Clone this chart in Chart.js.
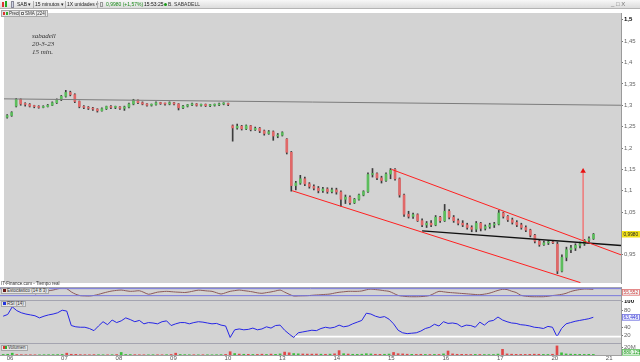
<!DOCTYPE html>
<html><head><meta charset="utf-8">
<script src="https://cdn.jsdelivr.net/npm/chart.js@4.4.1/dist/chart.umd.min.js"></script>
<style>
*{box-sizing:border-box}
html,body{margin:0;padding:0;background:#fff;overflow:hidden}
#wrap{position:relative;width:640px;height:362px;font-family:'Liberation Sans',Arial,sans-serif;color:#222}
canvas{position:absolute;left:0}
.abs{position:absolute;white-space:nowrap}
#tb{left:0;top:0;width:640px;height:9px;background:linear-gradient(#f7f7f7,#dcdcdc);border-bottom:1px solid #b4b4b4}
.t{font-size:5px;line-height:9px;top:0}
.sep{top:1px;width:1px;height:7px;background:#b0b0b0}
.box{font-size:4.5px;line-height:5px;height:7px;border:1px solid #a8a8a8;background:#e4e4e4;padding:0 1px;color:#333}
.sq{display:inline-block;width:3px;height:3px;margin-right:1px;vertical-align:0px}
.note{font-family:'Liberation Serif',serif;font-style:italic;font-size:7px;line-height:8px;color:#333;left:32px}
.hl{left:0;width:621px;height:1px;background:#a4a4b0}
</style></head><body><div id="wrap">
<canvas id="cPrice" width="640" height="278" style="top:9px"></canvas>
<canvas id="cStoch" width="640" height="13" style="top:287px"></canvas>
<canvas id="cRsi" width="640" height="43" style="top:300px"></canvas>
<canvas id="cVol" width="640" height="19" style="top:343px"></canvas>

<div id="tb" class="abs"></div>
<div class="abs" style="left:2px;top:2px;width:2px;height:5px;background:#d33"></div>
<div class="abs" style="left:5px;top:1px;width:2px;height:6px;background:#2a2"></div>
<div class="abs" style="left:11px;top:1px;width:3px;height:7px;border:1px solid #889;background:#cfd6e6"></div>
<div class="abs t" style="left:17px">SAB ▾</div>
<div class="abs sep" style="left:33px"></div>
<div class="abs t" style="left:35px">15 minutos ▾</div>
<div class="abs sep" style="left:65px"></div>
<div class="abs t" style="left:67px">1X unidades ▾</div>
<div class="abs sep" style="left:97px"></div>
<div class="abs" style="left:100px;top:2px;width:3px;height:5px;border:1px solid #999"></div>
<div class="abs t" style="left:106px;color:#1a8a1a">0,9980 (+1,57%)</div>
<div class="abs t" style="left:144px;color:#111">15:53:25</div>
<div class="abs" style="left:164px;top:3px;width:3px;height:3px;border-radius:50%;background:#1a9a1a"></div>
<div class="abs t" style="left:168px;color:#333">B. SABADELL</div>
<div class="abs t" style="left:611px;color:#777;font-size:6px">_ □ X</div>

<div class="abs box" style="left:1px;top:10px"><span class="sq" style="background:#d33;width:2px"></span><span class="sq" style="background:#3a3;width:2px"></span>Precio</div>
<div class="abs box" style="left:19px;top:10px;background:#ececec"><span class="sq" style="border:0.5px solid #777;background:#fff"></span>SMA (224)</div>

<div class="abs note" style="top:32px">sabadell</div>
<div class="abs note" style="top:39.5px">20-3-23</div>
<div class="abs note" style="top:48px">15 min.</div>

<div class="abs" style="left:1px;top:281px;font-size:4.5px;line-height:5px;color:#333">IT-Finance.com - Tiempo real</div>
<div class="abs hl" style="top:286.5px"></div>
<div class="abs hl" style="top:299.5px"></div>
<div class="abs hl" style="top:342.5px"></div>
<div class="abs box" style="left:1px;top:288px;height:6px;line-height:4px"><span class="sq" style="background:#6a1a1a"></span>Estocástico (14 8 3)</div>
<div class="abs box" style="left:1px;top:301px;height:6px;line-height:4px"><span class="sq" style="background:#2233dd"></span>RSI (14)</div>
<div class="abs box" style="left:1px;top:345px;height:6px;line-height:4px"><span class="sq" style="background:#d33;width:2px;margin-right:0"></span><span class="sq" style="background:#3a3;width:2px"></span>Volumen</div>
</div>
<script>
// ---------------- data ----------------
const dayLabels = ['06','07','08','09','10','13','14','15','16','17','20','21'];
const barsPerDay = 12;
const priceTicks = [0.95,1,1.05,1.1,1.15,1.2,1.25,1.3,1.35,1.4,1.45,1.5];
const rsiTicks = [20,40,80,100];
const volTicks = [20];

const opens = [1.272,1.276,
 1.298,1.314,1.303,1.302,1.298,1.297,1.295,1.297,1.300,1.306,1.313,1.321,
 1.330,1.325,1.309,1.297,1.295,1.293,1.291,1.287,1.292,1.297,1.295,1.296,
 1.293,1.296,1.303,1.312,1.306,1.303,1.300,1.302,1.306,1.304,1.303,1.306,
 1.303,1.294,1.298,1.301,1.303,1.300,1.302,1.299,1.300,1.301,1.303,1.304,
 1.252,1.247,1.251,1.245,1.252,1.243,1.246,1.240,1.234,1.238,1.228,1.230,
 1.221,1.190,1.112,1.118,1.128,1.116,1.110,1.106,1.100,1.104,1.098,1.102,
 1.097,1.080,1.085,1.072,1.080,1.090,1.098,1.138,1.140,1.130,1.124,1.139,
 1.150,1.128,1.090,1.045,1.040,1.044,1.030,1.020,1.024,1.020,1.038,1.030,
 1.052,1.038,1.030,1.024,1.020,1.014,1.010,1.024,1.012,1.016,1.020,1.022,
 1.048,1.040,1.032,1.026,1.020,1.014,1.008,0.996,0.982,0.974,0.978,0.980,
 0.975,0.912,0.944,0.962,0.966,0.972,0.976,0.984,0.988];
const closes = [1.276,1.283,
 1.314,1.303,1.302,1.298,1.297,1.295,1.297,1.300,1.306,1.313,1.321,1.330,
 1.325,1.309,1.297,1.295,1.293,1.291,1.287,1.292,1.297,1.295,1.296,1.293,
 1.296,1.303,1.312,1.306,1.303,1.300,1.302,1.306,1.304,1.303,1.306,1.303,
 1.294,1.298,1.301,1.303,1.300,1.302,1.299,1.300,1.301,1.303,1.304,1.302,
 1.247,1.251,1.245,1.252,1.243,1.246,1.240,1.234,1.238,1.228,1.230,1.236,
 1.190,1.112,1.118,1.128,1.116,1.110,1.106,1.100,1.104,1.098,1.102,1.097,
 1.080,1.085,1.072,1.080,1.090,1.098,1.138,1.140,1.130,1.124,1.139,1.148,
 1.128,1.090,1.045,1.040,1.044,1.030,1.020,1.024,1.020,1.038,1.030,1.052,
 1.038,1.030,1.024,1.020,1.014,1.010,1.024,1.012,1.016,1.020,1.022,1.048,
 1.040,1.032,1.026,1.020,1.014,1.008,0.996,0.982,0.974,0.978,0.980,0.978,
 0.912,0.944,0.962,0.966,0.972,0.976,0.984,0.988,0.998];
const highs = [1.278,1.285,
 1.316,1.315,1.306,1.304,1.300,1.299,1.299,1.302,1.308,1.315,1.323,1.335,
 1.333,1.327,1.310,1.299,1.297,1.295,1.292,1.294,1.298,1.299,1.298,1.297,
 1.298,1.305,1.314,1.313,1.308,1.304,1.303,1.308,1.307,1.305,1.308,1.307,
 1.304,1.300,1.302,1.305,1.304,1.303,1.303,1.302,1.303,1.305,1.306,1.305,
 1.254,1.256,1.253,1.254,1.253,1.249,1.248,1.242,1.241,1.240,1.234,1.238,
 1.222,1.192,1.122,1.136,1.132,1.119,1.114,1.110,1.108,1.107,1.106,1.106,
 1.100,1.090,1.088,1.082,1.092,1.100,1.142,1.152,1.142,1.134,1.142,1.152,
 1.152,1.130,1.092,1.052,1.048,1.046,1.034,1.028,1.030,1.042,1.040,1.068,
 1.056,1.042,1.034,1.030,1.024,1.018,1.028,1.026,1.020,1.024,1.026,1.054,
 1.050,1.042,1.036,1.030,1.024,1.018,1.010,0.998,0.986,0.982,0.984,0.982,
 0.980,0.950,0.968,0.972,0.976,0.980,0.986,0.992,1.000];
const lows = [1.270,1.274,
 1.296,1.300,1.298,1.296,1.294,1.293,1.294,1.296,1.299,1.304,1.311,1.319,
 1.322,1.306,1.294,1.292,1.290,1.288,1.284,1.286,1.290,1.292,1.292,1.290,
 1.288,1.294,1.301,1.304,1.301,1.298,1.298,1.300,1.302,1.300,1.301,1.301,
 1.289,1.292,1.296,1.299,1.298,1.298,1.297,1.297,1.298,1.299,1.301,1.299,
 1.216,1.244,1.242,1.243,1.240,1.241,1.236,1.230,1.232,1.218,1.224,1.228,
 1.186,1.099,1.102,1.115,1.112,1.106,1.102,1.095,1.096,1.094,1.095,1.092,
 1.064,1.070,1.068,1.070,1.078,1.088,1.096,1.132,1.126,1.118,1.122,1.128,
 1.125,1.085,1.040,1.036,1.035,1.028,1.016,1.014,1.016,1.018,1.026,1.028,
 1.034,1.026,1.020,1.016,1.010,1.004,1.004,1.006,1.008,1.012,1.014,1.020,
 1.036,1.028,1.022,1.016,1.010,1.004,0.992,0.978,0.970,0.972,0.974,0.976,
 0.906,0.910,0.936,0.955,0.960,0.966,0.972,0.980,0.986];
const volumes = [1.5,2.0,
 5,1.2,0.8,0.6,0.7,0.5,0.6,0.8,0.9,1.0,1.2,1.5,
 5,2.0,1.8,1.0,0.8,0.7,1.0,0.9,0.7,0.6,0.8,1.2,
 7,1.5,1.2,0.9,0.7,0.6,0.6,0.8,0.7,0.6,0.9,1.4,
 5,1.4,1.0,0.8,0.7,0.6,0.7,0.7,0.6,0.8,1.0,1.6,
 9,4.0,2.5,2.0,1.8,1.5,1.6,2.2,1.5,2.4,1.8,3.0,
 8,6.0,4.0,3.2,2.8,2.5,2.4,2.6,2.2,2.0,2.4,3.2,
 12,3.5,2.6,2.0,1.8,2.2,3.5,2.8,2.0,1.8,2.0,2.6,
 7,3.6,3.0,2.2,1.8,1.6,2.0,1.5,1.4,1.6,1.5,3.0,
 11,3.0,2.0,1.8,1.6,1.4,1.6,1.5,1.3,1.2,1.4,2.5,
 15.6,3.0,2.2,1.8,1.6,1.6,1.8,2.2,2.0,1.6,1.5,2.0,
 25,6.0,3.0,2.4,2.0,1.8,1.6,1.8,1.6];
const rsi = [66,70,
 88,79,74,71,69,67,62,66,69,71,74,80,
 78,44,41,40,40,37,32,43,53,46,57,51,
 55,62,58,53,56,48,51,50,48,53,55,44,
 48,51,51,48,51,53,52,50,48,49,45,43,
 16,34,36,34,35,38,34,36,41,38,44,45,
 33,24,16,27,29,31,33,32,37,40,38,40,
 45,41,43,48,52,56,73,71,66,63,65,59,
 48,33,27,25,26,27,31,37,40,47,43,53,
 49,50,48,41,45,44,40,52,45,54,56,64,
 57,53,50,49,46,45,43,40,39,37,42,40,
 18,37,48,51,54,56,58,60,63.4];
const stoch = [null,null,
 null,null,null,null,null,34,45,57,62,68,78,85,
 80,52,32,20,18,17,22,31,42,52,60,65,
 68,62,57,59,62,48,32,40,50,54,57,54,
 51,49,47,52,60,67,64,60,57,45,34,45,
 57,63,68,63,58,52,44,40,46,52,60,68,
 50,32,17,18,19,20,23,26,28,31,34,42,
 49,53,57,57,57,60,70,76,72,68,62,57,
 40,22,16,12,11,11,12,15,22,40,57,53,
 48,45,42,39,36,33,30,28,33,40,52,65,
 74,72,58,47,24,16,12,11,11,11,15,21,
 25,31,40,55,65,72,77,76,74];
// drawn lines: [barPos, price] endpoints
const resistanceLine = [[-2.2,1.315],[134.6,1.300]];
const channelTop = [[83.7,1.150],[134.6,0.950]];
const channelBottom = [[61.7,1.100],[125.6,0.885]];
const supportLine = [[90.5,1.006],[134.6,0.972]];
const targetArrow = [[126.2,0.983],[126.2,1.146]];
const stochLevels = [80,20];
const rsiFloor = [[62.8,18],[134.6,18]];
const lastPrice = 0.998, lastStoch = 55.552, lastRsi = 63.446;

// ---------------- setup ----------------
const X_MIN = -2.2, X_MAX = 134.6;
const AXW = 19;
Chart.defaults.font.family = "'Liberation Sans', Arial, sans-serif";
Chart.defaults.animation = false;
const xPos = closes.map((_, i) => i - 1.5);
const up = closes.map((c, i) => c >= opens[i]);

const bgPlugin = {id:'bg', beforeDraw(chart){const {ctx, chartArea:a}=chart; ctx.save(); ctx.fillStyle='#d3d3d3'; ctx.fillRect(a.left,a.top,a.right-a.left,a.bottom-a.top); ctx.restore();}};
const tagPlugin = {id:'tag', afterDraw(chart, args, opts){
  if(!opts || !opts.items) return;
  const {ctx, chartArea:a} = chart; const ys = chart.scales.y;
  opts.items.forEach(t => {
    const y = Math.round(ys.getPixelForValue(t.value));
    ctx.save();
    ctx.fillStyle = t.bg; ctx.fillRect(a.right+1, y-3, 18, 6.5);
    if (t.border){ ctx.strokeStyle=t.border; ctx.lineWidth=0.8; ctx.strokeRect(a.right+1.5, y-2.6, 17, 5.8); }
    ctx.fillStyle = t.fg; ctx.font = "4.8px 'Liberation Sans'"; ctx.textBaseline='middle';
    ctx.fillText(t.text, a.right+2.5, y+0.3);
    ctx.restore();
  });
}};
const fix = s => { s.width = AXW; s.paddingTop = 0; s.paddingBottom = 0; };
const hiddenX = {type:'linear', min:X_MIN, max:X_MAX, offset:false, display:false};
const base = (extra) => Object.assign({responsive:false, devicePixelRatio:1, events:[], layout:{padding:0},
  plugins:{legend:{display:false}, tooltip:{enabled:false}}}, extra);
function yAxis(min, max, ticksList, boldVal, fmt){
  return {position:'right', min, max, afterFit: fix,
    afterBuildTicks: s => { s.ticks = ticksList.map(v => ({value:v})); },
    grid:{drawOnChartArea:false, drawTicks:true, tickLength:2, color:'#777'},
    border:{display:true, color:'#9a9a9a'},
    ticks:{autoSkip:false, padding:1, display: ticksList.length>0,
      font: c => ({size:6, weight: (c.tick && c.tick.value===boldVal) ? 'bold' : 'normal'}),
      color: c => (c.tick && c.tick.value===boldVal) ? '#000' : '#666',
      callback: fmt}};
}
const seg = (pts) => pts.map(p => ({x:p[0], y:p[1]}));
const lineDs = (pts, color, w, extra) => Object.assign({type:'line', data:seg(pts), borderColor:color, borderWidth:w, pointRadius:0, fill:false, order:0}, extra||{});

// ---------------- price ----------------
new Chart(document.getElementById('cPrice'), {
  type:'bar',
  data:{datasets:[
    {data: xPos.map((x,i)=>({x, y:[lows[i], highs[i]]})), backgroundColor:'#3c3c3c', barThickness:1, grouped:false, order:3},
    {data: xPos.map((x,i)=>({x, y:[opens[i], closes[i]]})), backgroundColor: up.map(u => u ? '#5cbd5c' : '#e06868'), barThickness:2, grouped:false, minBarLength:1, order:2},
    lineDs(resistanceLine, '#7c7c7c', 1),
    lineDs(channelBottom, '#ff2020', 1),
    lineDs(channelTop, '#ff2020', 1),
    lineDs(supportLine, '#111111', 1.4),
    lineDs(targetArrow, '#f07878', 1.5, {pointRadius:[0,3.2], pointStyle:'triangle', pointBackgroundColor:'#e81010', pointBorderColor:'#e81010', pointBorderWidth:0})
  ]},
  options: base({
    scales:{x: hiddenX,
      y: yAxis(0.8841, 1.5159, priceTicks, 1.5, v => String(+(+v).toFixed(2)).replace('.', ','))},
    plugins:{legend:{display:false}, tooltip:{enabled:false},
      tag:{items:[{value:lastPrice, text:'0,9980', bg:'#f2e21a', fg:'#222'}]}}
  }),
  plugins:[bgPlugin, tagPlugin]
});

// ---------------- stochastic ----------------
new Chart(document.getElementById('cStoch'), {
  type:'line',
  data:{datasets:[
    lineDs([[X_MIN,stochLevels[0]],[X_MAX,stochLevels[0]]], '#7878dc', 1),
    lineDs([[X_MIN,stochLevels[1]],[X_MAX,stochLevels[1]]], '#7878dc', 1),
    {data: xPos.map((x,i)=>({x, y:stoch[i]})), borderColor:'#8c5a5a', borderWidth:1, pointRadius:0, tension:0.3, spanGaps:false}
  ]},
  options: base({
    scales:{x: hiddenX, y: yAxis(-17, 94, [], null, v => '')},
    plugins:{legend:{display:false}, tooltip:{enabled:false},
      tag:{items:[{value:lastStoch, text:'55,552', bg:'#f4f4f4', fg:'#d04040', border:'#e07070'}]}}
  }),
  plugins:[bgPlugin, tagPlugin]
});

// ---------------- RSI ----------------
new Chart(document.getElementById('cRsi'), {
  type:'line',
  data:{datasets:[
    lineDs(rsiFloor, '#ffffff', 1.6),
    {data: xPos.map((x,i)=>({x, y:rsi[i]})), borderColor:'#2626e6', borderWidth:1, pointRadius:0, tension:0, order:1}
  ]},
  options: base({
    scales:{x: hiddenX, y: yAxis(3, 104, rsiTicks, 100, v => String(v))},
    plugins:{legend:{display:false}, tooltip:{enabled:false},
      tag:{items:[{value:lastRsi, text:'63,446', bg:'#eef0ff', fg:'#2a2ad0', border:'#7070e0'}]}}
  }),
  plugins:[bgPlugin, tagPlugin]
});

// ---------------- volume ----------------
new Chart(document.getElementById('cVol'), {
  type:'bar',
  data:{datasets:[
    {data: xPos.map((x,i)=>({x, y:volumes[i]})), backgroundColor: up.map(u => u ? '#3cc03c' : '#e04848'), barThickness:2, grouped:false}
  ]},
  options: base({
    scales:{
      x:{type:'linear', min:X_MIN, max:X_MAX, offset:false, position:'bottom',
        afterBuildTicks: s => { s.ticks = dayLabels.map((_,k) => ({value:k*barsPerDay})); },
        afterFit: s => { s.height = 7; s.paddingLeft = 0; s.paddingRight = 0; },
        grid:{drawOnChartArea:false, drawTicks:false},
        border:{display:true, color:'#a0a0a0'},
        ticks:{autoSkip:false, maxRotation:0, padding:0, font:{size:6}, color:'#555', callback:(v,idx)=>dayLabels[idx]}},
      y: yAxis(0, 33, volTicks, null, v => v + 'M')},
    plugins:{legend:{display:false}, tooltip:{enabled:false},
      tag:{items:[{value:7.2, text:'880.125', bg:'#e6f6e6', fg:'#1e9a1e', border:'#60c060'}]}}
  }),
  plugins:[bgPlugin, tagPlugin]
});
</script>
</body></html>
